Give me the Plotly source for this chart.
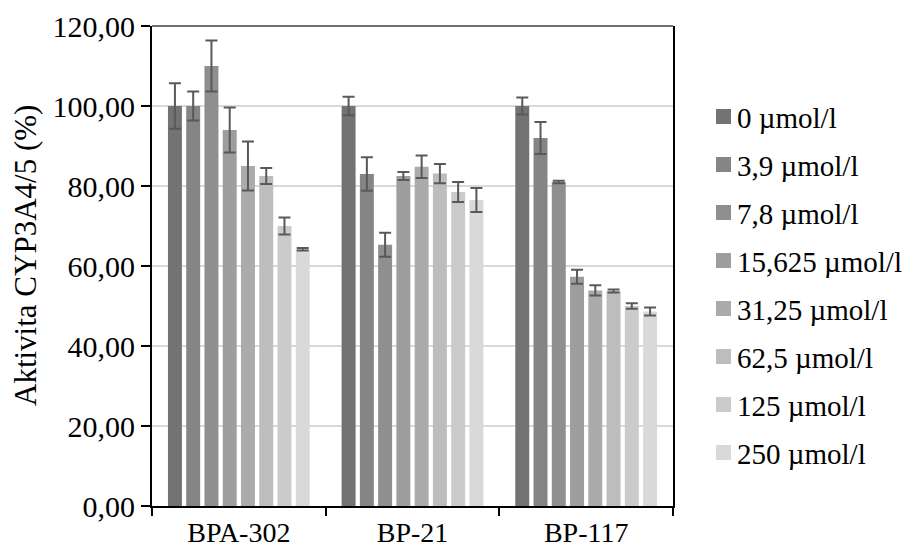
import plotly.graph_objects as go

compounds = ["BPA-302", "BP-21", "BP-117"]
concentrations = ["0 µmol/l", "3,9 µmol/l", "7,8 µmol/l", "15,625 µmol/l",
                  "31,25 µmol/l", "62,5 µmol/l", "125 µmol/l", "250 µmol/l"]

bpa302 = [100.0, 100.0, 110.0, 94.0, 85.0, 82.5, 70.0, 64.2]
bpa302_err = [5.7, 3.6, 6.4, 5.6, 6.1, 2.0, 2.1, 0.3]
bp21 = [100.0, 83.0, 65.3, 82.5, 84.8, 83.1, 78.5, 76.5]
bp21_err = [2.3, 4.2, 3.0, 1.0, 2.8, 2.4, 2.5, 3.0]
bp117 = [100.0, 92.0, 81.0, 57.3, 53.9, 53.75, 50.0, 48.6]
bp117_err = [2.1, 4.0, 0.3, 1.75, 1.3, 0.4, 0.7, 1.0]

colors = ["#737373", "#858585", "#8f8f8f", "#9e9e9e",
          "#ababab", "#bdbdbd", "#cbcbcb", "#d9d9d9"]

FONT = "Liberation Serif"
FS_TICK = 30
FS_XTICK = 28
FS_LEG = 29
FS_TITLE = 31

# plot area in pixels
L, R, T, B = 152, 673, 26, 506
W, H = 906, 549

def px_x(px):
    return (px - L) / (R - L)

def px_y(py):
    return (B - py) / (B - T)

fig = go.Figure()
for i, name in enumerate(concentrations):
    vals = [bpa302[i], bp21[i], bp117[i]]
    errs = [bpa302_err[i], bp21_err[i], bp117_err[i]]
    fig.add_trace(go.Bar(
        x=compounds, y=vals, name=name,
        marker=dict(color=colors[i], line=dict(width=0)),
        error_y=dict(type="data", array=errs, visible=True,
                     color="#595959", thickness=2, width=6),
        showlegend=False,
    ))

shapes = []
annotations = []
# manual legend
for i, name in enumerate(concentrations):
    cy = 116.5 + 48 * i
    shapes.append(dict(type="rect", xref="paper", yref="paper",
                       x0=px_x(716), x1=px_x(731),
                       y0=px_y(cy + 7.5), y1=px_y(cy - 7.5),
                       fillcolor=colors[i], line=dict(width=0)))
    annotations.append(dict(text=name, xref="paper", yref="paper",
                            x=px_x(735), y=px_y(cy + 1), xanchor="left",
                            yanchor="middle", showarrow=False,
                            font=dict(family=FONT, size=FS_LEG, color="black")))

# top border line
shapes.append(dict(type="line", xref="paper", yref="paper", x0=0, x1=1,
                   y0=1, y1=1, line=dict(color="#404040", width=1.5)))

# y axis title
annotations.append(dict(text="Aktivita CYP3A4/5 (%)", xref="paper", yref="paper",
                        x=px_x(26), y=px_y(256), xanchor="center", yanchor="middle",
                        textangle=-90, showarrow=False,
                        font=dict(family=FONT, size=FS_TITLE, color="black")))

fig.update_layout(
    width=W, height=H,
    margin=dict(l=L, r=W - R, t=T, b=H - B),
    paper_bgcolor="white", plot_bgcolor="white",
    barmode="group", bargap=0.159, bargroupgap=0.235,
    separators=", ",
    font=dict(family=FONT, size=FS_TICK, color="black"),
    shapes=shapes, annotations=annotations,
    showlegend=False,
)
fig.update_xaxes(
    type="category", tickson="boundaries", ticks="outside", ticklen=8,
    tickwidth=1.5, tickcolor="black",
    showline=True, linecolor="black", linewidth=2,
    showgrid=False, ticklabelstandoff=0, automargin=False,
    tickfont=dict(family=FONT, size=FS_XTICK, color="black"),
)
fig.update_yaxes(
    range=[0, 120], dtick=20, tick0=0, tickformat=".2f",
    ticks="outside", ticklen=9, tickwidth=1.5, tickcolor="black",
    showline=True, linecolor="black", linewidth=2, mirror=True,
    showgrid=True, gridcolor="#d9d9d9", gridwidth=1.5,
    zeroline=False, ticklabelstandoff=0, automargin=False,
    tickfont=dict(family=FONT, size=FS_TICK, color="black"),
)

fig.write_html("out.html")
